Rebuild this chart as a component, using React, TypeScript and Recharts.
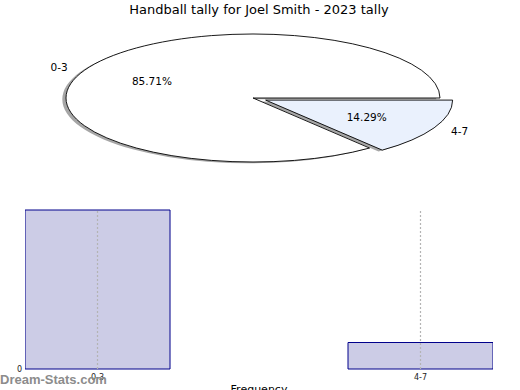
import React from 'react';
import { PieChart, Pie, BarChart, Bar, XAxis, YAxis, ReferenceLine } from 'recharts';

const TITLE = 'Handball tally for Joel Smith - 2023 tally';
const categories = ['0-3', '4-7'];
const counts = [6, 1];
const sliceColors = ['#ffffff', '#eaf1fd'];
const explode = [0, 0.075];

const pieData = categories.map((name, i) => ({ name, value: counts[i] }));
const barData = categories.map((name, i) => ({ idx: i, name, value: counts[i] }));

const RX = 187;
const RY = 64;
const SQUASH = RY / RX;
const FONT = '"DejaVu Sans", sans-serif';
const RAD = Math.PI / 180;

// the reference pie is squashed into an ellipse, so sectors are drawn by hand from recharts' angles
const wedge = (props: any, dx: number, dy: number) => {
  const { cx, cy, outerRadius, startAngle, endAngle } = props;
  const name = props.payload?.name ?? props.name;
  const i = categories.indexOf(name);
  const a0 = Math.min(startAngle, endAngle);
  const a1 = Math.max(startAngle, endAngle);
  const mid = ((a0 + a1) / 2) * RAD;
  const e = explode[i] || 0;
  const ox = cx + e * outerRadius * Math.cos(mid) + dx;
  const oy = cy - e * outerRadius * SQUASH * Math.sin(mid) + dy;
  const pt = (a: number) => [ox + outerRadius * Math.cos(a * RAD), oy - outerRadius * SQUASH * Math.sin(a * RAD)];
  const [x0, y0] = pt(a0);
  const [x1, y1] = pt(a1);
  const large = a1 - a0 > 180 ? 1 : 0;
  return { d: `M${ox},${oy} L${x0},${y0} A${outerRadius},${outerRadius * SQUASH} 0 ${large} 0 ${x1},${y1} Z`, i };
};

const ShadowShape = (props: any) => {
  const { d } = wedge(props, -3.7, 1.3);
  return <path d={d} fill="#4d4d4d" fillOpacity={0.5} stroke="none" />;
};

const SliceShape = (props: any) => {
  const { d, i } = wedge(props, 0, 0);
  return <path d={d} fill={sliceColors[i]} stroke="#000" strokeWidth={0.9} />;
};

const SliceLabel = (props: any) => {
  const { cx, cy, midAngle, outerRadius, percent, name } = props;
  const i = categories.indexOf(name);
  const e = explode[i] || 0;
  const c = Math.cos(midAngle * RAD);
  const s = Math.sin(midAngle * RAD);
  const at = (k: number) => [cx + k * outerRadius * c, cy - k * outerRadius * SQUASH * s];
  const [lx, ly] = at(1.1 + e);
  const [px, py] = at(0.6 + e);
  return (
    <g fontFamily={FONT} fontSize={10.5} fill="#000">
      <text x={lx} y={ly} textAnchor={c < 0 ? 'end' : 'start'} dominantBaseline="central">{name}</text>
      <text x={px} y={py} textAnchor="middle" dominantBaseline="central">{(percent * 100).toFixed(2)}%</text>
    </g>
  );
};

export default function App() {
  return (
    <div style={{ position: 'absolute', left: 0, top: 0, width: 520, height: 390, background: '#fff', overflow: 'hidden', fontFamily: FONT }}>
      <div style={{ position: 'absolute', top: 2, width: 518, textAlign: 'center', fontSize: 13, color: '#000' }}>{TITLE}</div>

      <div style={{ position: 'absolute', left: 0, top: 0 }}>
        <PieChart width={520} height={195} margin={{ top: 0, right: 0, bottom: 0, left: 0 }}>
          <Pie data={pieData} dataKey="value" nameKey="name" cx={253} cy={98} outerRadius={RX}
            shape={ShadowShape} label={false} labelLine={false} isAnimationActive={false} />
          <Pie data={pieData} dataKey="value" nameKey="name" cx={253} cy={98} outerRadius={RX}
            shape={SliceShape} label={SliceLabel} labelLine={false} isAnimationActive={false} />
        </PieChart>
      </div>

      <div style={{ position: 'absolute', left: 0, top: 195 }}>
        <BarChart width={520} height={195} data={barData} margin={{ top: 15, right: 27, bottom: 0, left: 0 }}>
          <XAxis dataKey="idx" type="number" domain={[-0.2245, 1.2245]} ticks={[0, 1]} allowDataOverflow
            tickFormatter={(v: number) => categories[v]} axisLine={false} tickLine={false} height={21}
            tickSize={3} tickMargin={2} tick={{ fontSize: 8, fill: '#222', fontFamily: FONT }} />
          <YAxis domain={[0, 6]} ticks={[0]} axisLine={false} tickLine={false} width={25}
            tickSize={2} tickMargin={1} tick={{ fontSize: 8, fill: '#222', fontFamily: FONT }} />
          <Bar dataKey="value" fill="#ccccE6" stroke="#00008b" strokeWidth={1}
            barSize={145} isAnimationActive={false} />
          {barData.map((d) => (
            <ReferenceLine key={d.name} x={d.idx} stroke="#b4b4b4" strokeDasharray="2 2" strokeWidth={1.2} />
          ))}
        </BarChart>
      </div>

      <div style={{ position: 'absolute', left: 0, top: 372, fontSize: 13, fontWeight: 'bold', color: '#8c8c8c', fontFamily: '"Liberation Sans", sans-serif' }}>Dream-Stats.com</div>
      <div style={{ position: 'absolute', left: 0, top: 383, width: 518, textAlign: 'center', fontSize: 11, color: '#000' }}>Frequency</div>
    </div>
  );
}
